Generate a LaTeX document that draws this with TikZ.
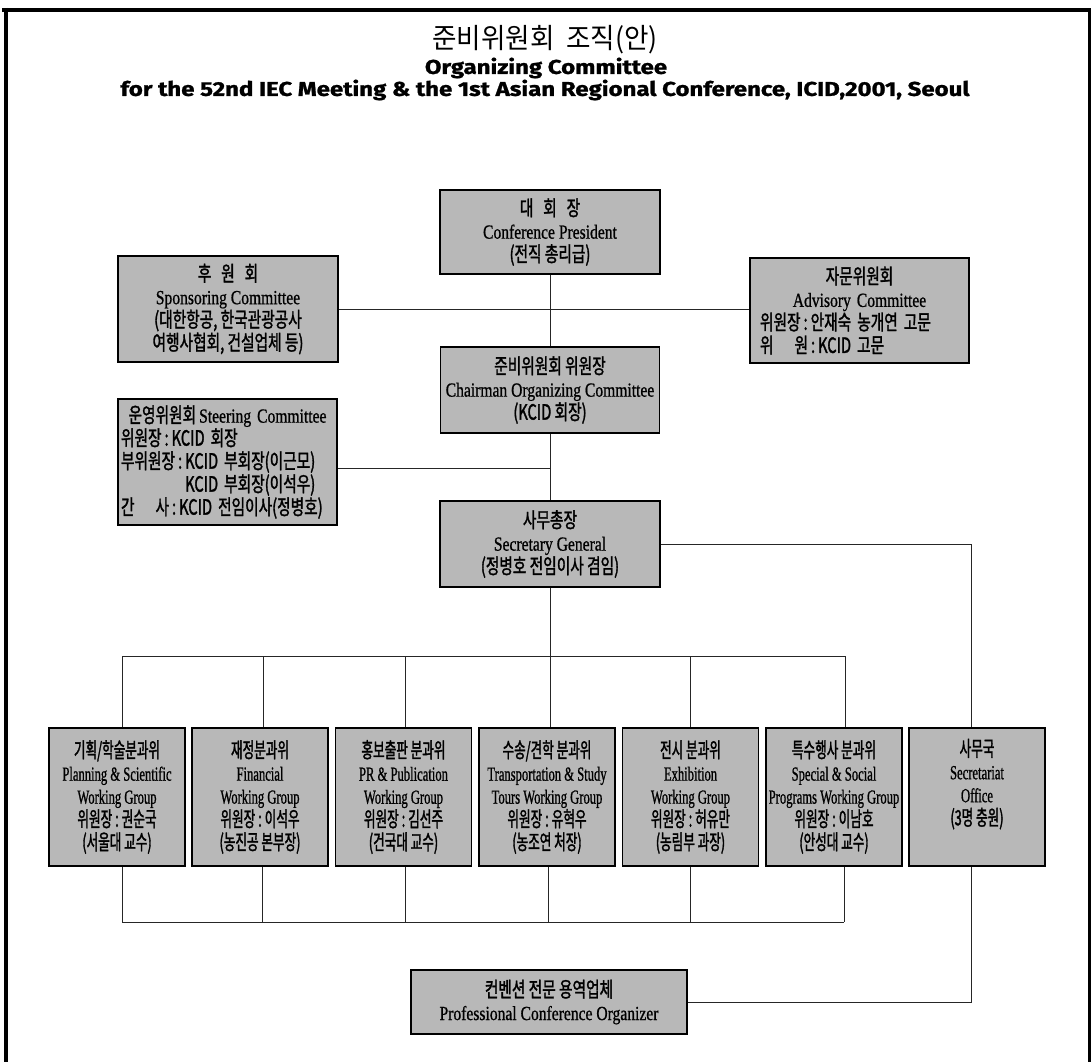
\documentclass[tikz,border=0pt]{standalone}
\usepackage{fontspec}
\setmainfont{Liberation Serif}
\newfontfamily\krf[FakeStretch=0.7,FakeBold=1.5]{Noto Sans CJK KR}
\newfontfamily\krbf[FakeStretch=0.6,FakeBold=1.5]{Noto Sans CJK KR}
\newfontfamily\krt[FakeStretch=0.95]{Noto Sans CJK KR}
\newfontfamily\enfa[FakeStretch=0.78,FakeBold=0.8]{Liberation Serif}
\newfontfamily\enfb[FakeStretch=0.63,FakeBold=0.8]{Liberation Serif}
\newfontfamily\ttlf[FakeStretch=1.2,FakeBold=1.2]{Fira Sans}
\newcommand\krl[1]{{\krf\fontsize{21}{23}\selectfont #1}}
\newcommand\krb[1]{{\krbf\fontsize{21}{23}\selectfont #1}}
\newcommand\enl[1]{{\enfa\fontsize{20}{23}\selectfont #1}}
\newcommand\enn[1]{{\enfb\fontsize{20}{23}\selectfont #1}}
\newcommand\cln{\hspace{3pt}:\hspace{3pt}}
\begin{document}
\begin{tikzpicture}[x=1pt,y=-1pt,
  orgbox/.style={draw=black, line width=1.4pt, fill=black!28, inner sep=0pt, align=center, font=\fontsize{18}{23}\selectfont},
  link/.style={draw=black!85, line width=1pt}]
\useasboundingbox (0,0) rectangle (1091,1062);
\fill[white] (0,0) rectangle (1091,1062);
% frame
\draw[line width=4pt] (2,10) -- (1091,10);
\draw[line width=4pt] (6,8) -- (6,1062);
\draw[line width=3pt] (1089.5,10) -- (1089.5,1062);
% title
\node (t1) at (545,40) {\krt\fontsize{28}{32}\selectfont 준비위원회\ \ 조직(안)};
\node (t2) at (546,68) {\ttlf\bfseries\fontsize{20}{24}\selectfont Organizing Committee};
\node (t3) at (545,90) {\ttlf\bfseries\fontsize{20}{24}\selectfont for the 52nd IEC Meeting \& the 1st Asian Regional Conference, ICID,2001, Seoul};
% top boxes
\node[orgbox, minimum width=220pt, minimum height=84pt] (pres) at (550,232)
  {\krl{대\ \ \ 회\ \ \ 장}\\ \enl{Conference President}\\ \krl{(전직 총리급)}};
\node[orgbox, minimum width=220pt, minimum height=106pt] (spons) at (228,309)
  {\krl{후\ \ \ 원\ \ \ 회}\\ \enl{Sponsoring Committee}\\ \krl{(대한항공, 한국관광공사}\\ \krl{여행사협회, 건설업체 등)}};
\node[orgbox, align=left, inner xsep=10pt, text width=199pt, minimum width=219pt, minimum height=105pt] (advi) at (859.5,310.5)
  {\makebox[199pt]{\krl{자문위원회}}\\ \makebox[199pt]{\enl{Advisory Committee}}\\ \krl{위원장\cln 안재숙 농개연 고문}\\ \krl{위\quad 원\cln KCID 고문}};
\node[orgbox, minimum width=219pt, minimum height=86pt] (chair) at (550,390)
  {\krl{준비위원회 위원장}\\ \enl{Chairman Organizing Committee}\\ \krl{(KCID 회장)}};
\node[orgbox, align=left, inner xsep=3pt, text width=213pt, minimum width=219pt, minimum height=126pt] (steer) at (227.5,462)
  {\makebox[213pt]{\krl{운영위원회}\,\enl{Steering Committee}}\\
   \krl{위원장\cln KCID 회장}\\
   \krl{부위원장\cln KCID 부회장(이근모)}\\
   \krl{\phantom{부위원장\cln}KCID 부회장(이석우)}\\
   \krl{간\quad 사\cln KCID 전임이사(정병호)}};
\node[orgbox, minimum width=220pt, minimum height=86pt] (sg) at (550,544)
  {\krl{사무총장}\\ \enl{Secretary General}\\ \krl{(정병호 전임이사 겸임)}};
% working groups
\node[orgbox, minimum width=136pt, minimum height=138pt] (wg1) at (117,797)
  {\krb{기획/학술분과위}\\ \enn{Planning \& Scientific}\\ \enn{Working Group}\\ \krb{위원장\cln 권순국}\\ \krb{(서울대 교수)}};
\node[orgbox, minimum width=136pt, minimum height=138pt] (wg2) at (260,797)
  {\krb{재정분과위}\\ \enn{Financial}\\ \enn{Working Group}\\ \krb{위원장\cln 이석우}\\ \krb{(농진공 본부장)}};
\node[orgbox, minimum width=136pt, minimum height=138pt] (wg3) at (403.5,797)
  {\krb{홍보출판 분과위}\\ \enn{PR \& Publication}\\ \enn{Working Group}\\ \krb{위원장\cln 김선주}\\ \krb{(건국대 교수)}};
\node[orgbox, minimum width=136pt, minimum height=138pt] (wg4) at (547,797)
  {\krb{수송/견학 분과위}\\ \enn{Transportation \& Study}\\ \enn{Tours Working Group}\\ \krb{위원장\cln 유혁우}\\ \krb{(농조연 처장)}};
\node[orgbox, minimum width=136pt, minimum height=138pt] (wg5) at (690.5,797)
  {\krb{전시 분과위}\\ \enn{Exhibition}\\ \enn{Working Group}\\ \krb{위원장\cln 허유만}\\ \krb{(농림부 과장)}};
\node[orgbox, minimum width=136pt, minimum height=138pt] (wg6) at (834,797)
  {\krb{특수행사 분과위}\\ \enn{Special \& Social}\\ \enn{Programs Working Group}\\ \krb{위원장\cln 이남호}\\ \krb{(안성대 교수)}};
\node[orgbox, minimum width=136pt, minimum height=138pt] (sec) at (977,797)
  {\krb{사무국}\\ \enn{Secretariat}\\ \enn{Office}\\ \krb{(3명 충원)}\\ \strut};
\node[orgbox, minimum width=276pt, minimum height=64pt] (pco) at (549,1002)
  {\krl{컨벤션 전문 용역업체}\\ \enl{Professional Conference Organizer}};
% connectors
\draw[link] (pres.south) -- (chair.north);
\draw[link] (spons.east) -- (spons.east -| advi.west);
\draw[link] ([yshift=-6pt]steer.east) -- ([yshift=-6pt]steer.east -| chair.south);
\draw[link] (chair.south) -- (sg.north);
\draw[link] (sg.east) -| ([xshift=-6pt]sec.north);
\coordinate (d1) at (122,656);
\coordinate (d2) at (263,656);
\coordinate (d3) at (405,656);
\coordinate (d5) at (690,656);
\coordinate (d6) at (845,656);
\draw[link] (d1) -- (d6);
\draw[link] (sg.south) -- (sg.south |- wg4.north);
\draw[link] (d1) -- (d1 |- wg1.north);
\draw[link] (d2) -- (d2 |- wg2.north);
\draw[link] (d3) -- (d3 |- wg3.north);
\draw[link] (d5) -- (d5 |- wg5.north);
\draw[link] (d6) -- (d6 |- wg6.north);
\coordinate (e1) at (122,922);
\coordinate (e2) at (262,922);
\coordinate (e3) at (405,922);
\coordinate (e4) at (548,922);
\coordinate (e5) at (690,922);
\coordinate (e6) at (844,922);
\draw[link] (e1) -- (e6);
\draw[link] (e1 |- wg1.south) -- (e1);
\draw[link] (e2 |- wg2.south) -- (e2);
\draw[link] (e3 |- wg3.south) -- (e3);
\draw[link] (e4 |- wg4.south) -- (e4);
\draw[link] (e5 |- wg5.south) -- (e5);
\draw[link] (e6 |- wg6.south) -- (e6);
\draw[link] ([xshift=-6pt]sec.south) |- (pco.east);
\end{tikzpicture}
\end{document}
